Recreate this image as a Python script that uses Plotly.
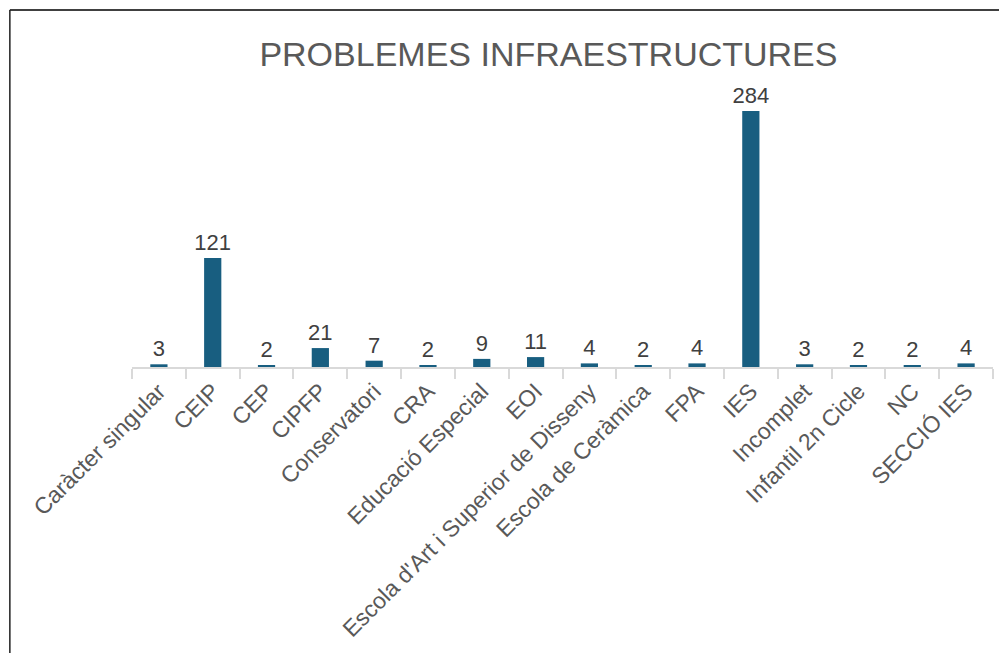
import plotly.graph_objects as go

# Problemes d'infraestructures per tipus de centre
categories = [
    "Caràcter singular", "CEIP", "CEP", "CIPFP", "Conservatori", "CRA",
    "Educació Especial", "EOI", "Escola d'Art i Superior de Disseny",
    "Escola de Ceràmica", "FPA", "IES", "Incomplet", "Infantil 2n Cicle",
    "NC", "SECCIÓ IES",
]
values = [3, 121, 2, 21, 7, 2, 9, 11, 4, 2, 4, 284, 3, 2, 2, 4]

FONT = "Liberation Sans, Arial, sans-serif"

fig = go.Figure()
fig.add_trace(go.Bar(
    x=categories, y=values,
    marker=dict(color='#185E80', line=dict(width=0)),
    width=0.32,
    text=values, textposition='outside', cliponaxis=False, constraintext='none',
    textfont=dict(family=FONT, size=22, color='#404040'),
))

fig.update_layout(
    width=999, height=653,
    paper_bgcolor='white', plot_bgcolor='white',
    margin=dict(l=132, r=6, t=60, b=286),
    showlegend=False,
    title=dict(text="PROBLEMES INFRAESTRUCTURES", x=0.549, xref='container', xanchor='center',
               y=1 - 54 / 653, yref='container', yanchor='middle',
               font=dict(family=FONT, size=34, color='#595959')),
    xaxis=dict(showline=True, linecolor='#d9d9d9', linewidth=1.5,
               ticks='outside', ticklen=10, tickcolor='#d9d9d9', tickwidth=1.5,
               tickson='boundaries', tickangle=-45, showgrid=False,
               tickfont=dict(family=FONT, size=23, color='#595959')),
    yaxis=dict(visible=False, range=[0, 340.6]),
)

# outer frame (cut off at right and bottom like the source image)
fig.add_shape(type='line', xref='paper', yref='paper',
              x0=(10 - 132) / 860, x1=1.01, y0=1 + 50 / 307, y1=1 + 50 / 307,
              line=dict(color='#404040', width=2))
fig.add_shape(type='line', xref='paper', yref='paper',
              x0=(10 - 132) / 860, x1=(10 - 132) / 860, y0=1 + 50 / 307, y1=-1.0,
              line=dict(color='#202020', width=1.5))

# drop the default page margin so the figure sits at the window's corner
fig.write_html("out.html", config={'displayModeBar': False},
               post_script="document.body.style.margin='0';")
